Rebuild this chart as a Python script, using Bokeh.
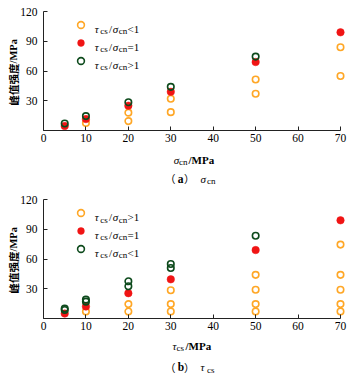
from math import pi
from bokeh.plotting import figure
from bokeh.models import Range1d, FixedTicker, Label, Legend, LegendItem
from bokeh.layouts import column
from bokeh.embed import file_html
from bokeh.resources import INLINE

# ---------------- data ----------------
x_ticks = [0, 10, 20, 30, 40, 50, 60, 70]
y_ticks = [0, 30, 60, 90, 120]

# (a) x = sigma_cn
a_lt_x = [10, 20, 20, 30, 30, 50, 50, 70, 70]          # tau/sigma < 1
a_lt_y = [7.5, 18, 9.5, 32, 18.5, 51.5, 37, 84, 55]
a_eq_x = [5, 10, 20, 30, 50, 70]                       # tau/sigma = 1
a_eq_y = [4.5, 11.5, 25, 39, 69, 99]
a_gt_x = [5, 10, 20, 30, 50]                           # tau/sigma > 1
a_gt_y = [7, 14.5, 28.5, 44, 74.5]

# (b) x = tau_cs
b_gt_x = [10, 20, 20, 30, 30, 30, 50, 50, 50, 50, 70, 70, 70, 70, 70]   # tau/sigma > 1
b_gt_y = [7, 7, 14.5, 7, 14.5, 28.5, 7, 14.5, 29, 44, 7, 14.5, 29, 44, 74.5]
b_eq_x = [5, 10, 20, 30, 50, 70]                       # tau/sigma = 1
b_eq_y = [5, 12, 25.5, 39.5, 69, 99]
b_lt_x = [5, 5, 10, 10, 20, 20, 30, 30, 50]            # tau/sigma < 1
b_lt_y = [8.5, 10, 17, 19, 32.5, 37.5, 51, 55, 83.5]

ORANGE = "#FFA726"
RED = "#F01414"
GREEN = "#0D4A1C"
SERIF = "Liberation Serif"
CJK = "Noto Sans CJK SC"
PX_X = (340 - 43) / 70.0     # pixels per x unit
PX_Y = 119 / 120.0           # pixels per y unit


def make_fig(height, zero_px):
    # frame fills the canvas; axes are pinned at the data origin
    ybot = -(height - zero_px) / PX_Y
    ytop = zero_px / PX_Y
    p = figure(width=357, height=height,
               x_range=Range1d(-43 / PX_X, (357 - 43) / PX_X),
               y_range=Range1d(ybot, ytop),
               output_backend="svg", toolbar_location=None,
               min_border=0, min_border_left=0, min_border_right=0,
               min_border_top=0, min_border_bottom=0)
    p.xgrid.visible = False
    p.ygrid.visible = False
    p.outline_line_color = None
    p.background_fill_color = "white"
    p.border_fill_color = "white"
    for ax in (p.xaxis[0], p.yaxis[0]):
        ax.fixed_location = 0
        ax.axis_line_color = "#222222"
        ax.axis_line_width = 1
        ax.major_tick_line_color = "#222222"
        ax.major_tick_in = 4
        ax.major_tick_out = 0
        ax.minor_tick_in = 0
        ax.minor_tick_out = 0
        ax.major_label_text_font = SERIF
        ax.major_label_text_font_size = "11.5px"
        ax.major_label_text_color = "black"
    p.xaxis.bounds = (0, 70)
    p.xaxis.ticker = FixedTicker(ticks=x_ticks, minor_ticks=[])
    p.xaxis.major_label_standoff = 3
    p.yaxis.bounds = (0, 120)
    p.yaxis.ticker = FixedTicker(ticks=y_ticks, minor_ticks=[])
    p.yaxis.major_label_overrides = {0: ""}
    p.yaxis.major_label_standoff = 6
    return p


def series(p, lt, eq, gt, loc):
    r = {}
    r["o"] = p.scatter(lt[0], lt[1], marker="circle", size=6.5, fill_color=None,
                       line_color=ORANGE, line_width=1.6)
    r["r"] = p.scatter(eq[0], eq[1], marker="circle", size=7.5, fill_color=RED,
                       line_color=RED, line_width=0.5)
    r["g"] = p.scatter(gt[0], gt[1], marker="circle", size=6.5, fill_color=None,
                       line_color=GREEN, line_width=1.6)
    legend = Legend(items=[LegendItem(label=" ", renderers=[r[k]]) for k in ["o", "r", "g"]],
                    location=loc, glyph_width=17, glyph_height=17, label_height=17,
                    label_width=1, label_standoff=0, spacing=1, padding=0, margin=0,
                    border_line_color=None, background_fill_alpha=0,
                    label_text_font_size="6px")
    p.add_layout(legend)


def put(p, H, X, Y, s, size=11, style="normal", font=SERIF, align="left",
        baseline="alphabetic", angle=0.0):
    p.add_layout(Label(x=X, y=H - Y, x_units="screen", y_units="screen", text=s,
                       text_font=font, text_font_size=f"{size}px", text_font_style=style,
                       text_align=align, text_baseline=baseline, angle=angle,
                       text_color="black"))


def legend_text(p, H, yc, sym):
    b = yc + 4
    put(p, H, 94.3, b, "τ", style="italic")
    put(p, H, 99.8, b + 2.5, "cs", size=9)
    put(p, H, 108.5, b, "/")
    put(p, H, 112.3, b, "σ", style="italic")
    put(p, H, 118.3, b + 2.5, "cn", size=9)
    put(p, H, 127, b, sym)


def ylabel(p, H, yc):
    start = yc + 33
    put(p, H, 13, start, "峰值强度", size=10.5, style="bold", font=CJK,
        baseline="middle", angle=pi / 2)
    put(p, H, 13, start - 42, "/MPa", size=10.5, style="bold",
        baseline="middle", angle=pi / 2)


def caption(p, H, base, letter, sym, sub):
    put(p, H, 164.5, base, "（", size=10.5, font=CJK)
    put(p, H, 177.2, base, letter, size=11.5, style="bold")
    put(p, H, 183.5, base, "）", size=10.5, font=CJK)
    put(p, H, 200, base, sym, style="italic")
    put(p, H, 206.5, base + 2.5, sub, size=9)


# ---------------- (a) ----------------
HA = 190
pa = make_fig(HA, 130)
series(pa, (a_lt_x, a_lt_y), (a_eq_x, a_eq_y), (a_gt_x, a_gt_y), (71.5, HA - 68.8))
legend_text(pa, HA, 24.3, "<1")
legend_text(pa, HA, 42.3, "=1")
legend_text(pa, HA, 60.3, ">1")
ylabel(pa, HA, 72)
put(pa, HA, 173.3, 159.3, "σ", style="italic")
put(pa, HA, 178.5, 161.8, "cn", size=9)
put(pa, HA, 188, 159.3, "/MPa", style="bold")
caption(pa, HA, 178.3, "a", "σ", "cn")

# ---------------- (b) ----------------
HB = 187
pb = make_fig(HB, 128)
series(pb, (b_gt_x, b_gt_y), (b_eq_x, b_eq_y), (b_lt_x, b_lt_y), (71.5, HB - 67.2))
legend_text(pb, HB, 22.7, ">1")
legend_text(pb, HB, 40.3, "=1")
legend_text(pb, HB, 58.3, "<1")
ylabel(pb, HB, 70)
put(pb, HB, 172, 155, "τ", style="italic")
put(pb, HB, 176, 157.5, "cs", size=9)
put(pb, HB, 185, 155, "/MPa", style="bold")
caption(pb, HB, 176.5, "b", "τ", "cs")

layout = column(pa, pb, spacing=0)
open("out.html", "w").write(file_html(layout, INLINE))
